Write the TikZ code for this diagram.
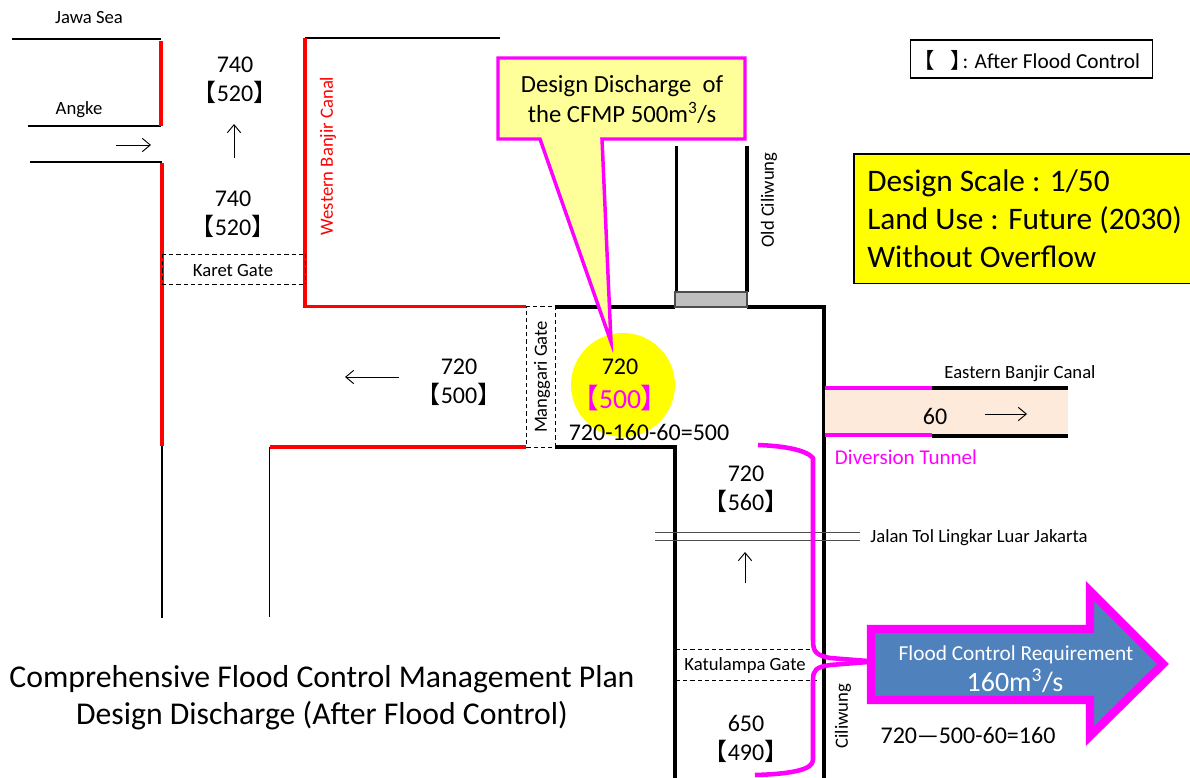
\documentclass[tikz,border=0pt]{standalone}
\usepackage{fontspec}
\setmainfont{Carlito}
\newfontfamily\cjk{Noto Sans CJK JP}
\newcommand{\lb}{{\cjk 【}}
\newcommand{\rb}{{\cjk 】}}
\newcommand{\fs}[2]{\fontsize{#1}{#2}\selectfont}
\definecolor{mag}{RGB}{255,0,255}
\definecolor{red1}{RGB}{255,0,0}
\definecolor{yel}{RGB}{255,255,0}
\definecolor{lyel}{RGB}{255,255,153}
\definecolor{peach}{RGB}{253,234,218}
\definecolor{blu}{RGB}{79,129,189}
\definecolor{gr}{RGB}{191,191,191}
\usetikzlibrary{arrows.meta}
\tikzset{
 x=0.75pt,y=-0.75pt,
 thinl/.style={black,line width=0.8pt},
 thick1/.style={black,line width=2.6pt},
 redl/.style={red1,line width=2.6pt},
 magl/.style={mag,line width=2.6pt},
 gate/.style={black,line width=0.7pt,dash pattern=on 3.2pt off 2.2pt},
 flow/.style={black,line width=0.7pt,-{Straight Barb[length=6pt,width=10pt]}},
 lab/.style={inner sep=0pt,align=center,font=\fs{18}{21.8}},
 sm/.style={inner sep=0pt,align=center,font=\fs{14}{16}},
 brace/.style={mag,line width=3.4pt,line join=round},
}
\begin{document}
\begin{tikzpicture}
\useasboundingbox (0,0) rectangle (1190,778);
\node[circle,fill=yel,minimum size=78pt,inner sep=0pt] (circ) at (623,385) {};
\draw[thinl] (12,39) -- (161,39);
\draw[thinl] (28,126) -- (161,126);
\draw[thinl] (30,162) -- (162,162);
\draw[redl] (161,41) -- (161,126);
\draw[redl] (162,163) -- (162,446);
\draw[thinl] (162,446) -- (162,618);
\draw[thinl] (305,38) -- (500,38);
\draw[redl] (305,38) -- (305,306.5) -- (526,306.5);
\draw[redl] (526,447) -- (270,447);
\draw[thinl] (269.5,447) -- (269.5,617);
% gates
\draw[gate] (162,254) -- (305,254);
\draw[gate] (162,284) -- (305,284);
\draw[gate] (162,254) -- (162,284);
\draw[gate] (305,254) -- (305,284);
\draw[gate] (526,306) -- (555,306) -- (555,447) -- (526,447) -- cycle;
\draw[gate] (676,649) -- (818,649);
\draw[gate] (676,680) -- (818,680);
% black channel
\draw[thick1] (555,307) -- (675,307);
\draw[thick1] (747,307) -- (824,307) -- (824,778);
\draw[thick1] (555,447) -- (675,447) -- (675,778);
\draw[thick1] (676.5,146) -- (676.5,292);
\draw[thick1] (747,146) -- (747,292);
\draw[fill=gr,draw=black!70,line width=0.8pt] (675,292) rectangle (747,307);
% Eastern canal
\fill[peach] (825,388) rectangle (1068,436);
\draw[magl] (825,388) -- (932,388);
\draw[magl] (825,435) -- (932,435);
\draw[thick1] (932,388) -- (1068,388);
\draw[thick1] (932,436) -- (1068,436);
% Jalan tol
\draw[black!70,line width=0.5pt] (655,532) -- (860,532);
\draw[black!70,line width=0.5pt] (655,540) -- (860,540);
% flows
\coordinate (fa1) at (116,145); \coordinate (fa2) at (151,145);
\draw[flow] (fa1) -- (fa2);
\coordinate (fb1) at (234,158); \coordinate (fb2) at (234,124);
\draw[flow] (fb1) -- (fb2);
\coordinate (fc1) at (399,377); \coordinate (fc2) at (345,377);
\draw[flow] (fc1) -- (fc2);
\coordinate (fd1) at (985,414); \coordinate (fd2) at (1027,414);
\draw[flow] (fd1) -- (fd2);
\coordinate (fe1) at (745,583); \coordinate (fe2) at (745,552);
\draw[flow] (fe1) -- (fe2);
% Callout
\draw[magl,fill=lyel,line join=miter] (498,58) -- (745,58) -- (745,139) -- (602,139) -- (611,342) -- (540,139) -- (498,139) -- cycle;
\node[inner sep=0pt,align=center,font=\fs{18.5}{22.5}] (cal) at (622,99) {Design Discharge\ \ of\\the CFMP 500m\textsuperscript{3}/s};
% brace
\draw[brace] (758,445) .. controls (785,446) and (806,450) .. (813,458) -- (813,640) .. controls (813,652) and (816,655) .. (830,658) -- (868,661);
\draw[brace] (868,662) -- (830,665) .. controls (816,667) and (813,670) .. (813,680) -- (813,760) .. controls (813,770) and (790,774) .. (755,775);
% Big arrow
\draw[mag,line width=6.2pt,fill=blu,miter limit=10] (871,629) -- (1090,629) -- (1090,591) -- (1163,664) -- (1090,736) -- (1090,700) -- (871,700) -- cycle;
\node[inner sep=0pt,text=white,font=\fs{16}{18}] (fcr) at (1016,655) {Flood Control Requirement};
\node[inner sep=0pt,text=white,font=\fs{21}{24}] (v160) at (1015,681) {160m\textsuperscript{3}/s};
% Legend
\node[draw=black,line width=0.8pt,minimum width=181pt,minimum height=28.5pt,inner sep=0pt] (leg) at (1031.5,59) {};
\node[inner sep=0pt,anchor=west,font=\fs{16}{18}] (legt) at (913,60) {\lb\hspace{12pt}\rb\hspace{-7pt}: After Flood Control};
% Yellow box
\node[draw=black,line width=0.8pt,fill=yel,minimum width=252.8pt,minimum height=96.8pt,inner sep=0pt] (ybox) at (1022.5,218.5) {};
\node[inner sep=0pt,align=left,anchor=west,font=\fs{23.5}{28.5}] (ds) at (867,219) {Design Scale : 1/50\\Land Use : Future (2030)\\Without Overflow};
% labels
\node[sm] (jawa) at (89,18) {Jawa Sea};
\node[sm] (angke) at (79,110) {Angke};
\node[lab] (l1) at (235,80.5) {740\\\lb520\rb};
\node[lab] (l2) at (233,214) {740\\\lb520\rb};
\node[sm] (kg) at (233,271) {Karet Gate};
\node[sm,text=red1,rotate=90] (wb) at (328,156) {Western Banjir Canal};
\node[sm,rotate=90] (oc) at (769,200) {Old Ciliwung};
\node[sm,rotate=90] (mg) at (542,377) {Manggari Gate};
\node[lab] (l3) at (459,382) {720\\\lb500\rb};
\node[inner sep=0pt,font=\fs{18}{20}] (c1) at (620,367) {720};
\node[inner sep=0pt,font=\fs{20.7}{23},text=mag] (c2) at (620,398) {\lb500\rb};
\node[inner sep=0pt,font=\fs{18}{20}] (eq1) at (649,432) {720-160-60=500};
\node[sm] (ebc) at (1020,374) {Eastern Banjir Canal};
\node[inner sep=0pt,font=\fs{18}{20}] (six) at (935,416) {60};
\node[inner sep=0pt,text=mag,font=\fs{15.8}{18}] (dt) at (906,457) {Diversion Tunnel};
\node[lab] (l4) at (746,489) {720\\\lb560\rb};
\node[sm] (jt) at (979,538) {Jalan Tol Lingkar Luar Jakarta};
\node[sm] (ka) at (745,666) {Katulampa Gate};
\node[sm,rotate=90] (ci) at (843,716) {Ciliwung};
\node[lab] (l5) at (746,739) {650\\\lb490\rb};
\node[inner sep=0pt,font=\fs{18}{20}] (eq2) at (968,735) {720—500-60=160};
\node[inner sep=0pt,align=center,font=\fs{23.8}{27.8}] (title) at (322,698) {Comprehensive Flood Control Management Plan\\Design Discharge (After Flood Control)};
\end{tikzpicture}
\end{document}
